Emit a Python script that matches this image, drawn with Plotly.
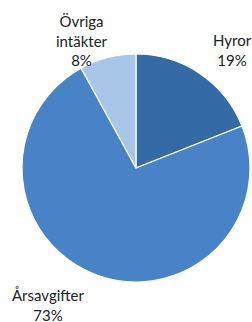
import plotly.graph_objects as go

labels = ["Hyror", "Årsavgifter", "Övriga intäkter"]
values = [19, 73, 8]
pct_labels = ["19%", "73%", "8%"]
colors = ["#346aa6", "#4783c6", "#a8c7e8"]

W, H = 252, 322
cx, cy, r = 136, 168, 114

fig = go.Figure(go.Pie(
    labels=labels, values=values, sort=False, direction="clockwise", rotation=0,
    marker=dict(colors=colors, line=dict(color="white", width=1.2)),
    textinfo="none", hoverinfo="label+percent", showlegend=False,
    domain=dict(x=[(cx - r) / W, (cx + r) / W], y=[(H - cy - r) / H, (H - cy + r) / H]),
))

font = dict(family="Lato", size=15, color="#222222")
ann = [
    ("Hyror<br>" + pct_labels[0], 232, 50),
    ("Årsavgifter<br>" + pct_labels[1], 48, 305),
    ("Övriga<br>intäkter<br>" + pct_labels[2], 82, 41),
]
for text, x, y in ann:
    fig.add_annotation(text=text, x=x / W, y=1 - y / H, xref="paper", yref="paper",
                       showarrow=False, xanchor="center", yanchor="middle", align="center",
                       font=font)

fig.update_layout(width=W, height=H, margin=dict(l=0, r=0, t=0, b=0),
                  paper_bgcolor="white", plot_bgcolor="white")
fig.write_html("out.html", config={"displayModeBar": False},
               post_script="document.body.style.margin='0';document.body.style.overflow='hidden';")
